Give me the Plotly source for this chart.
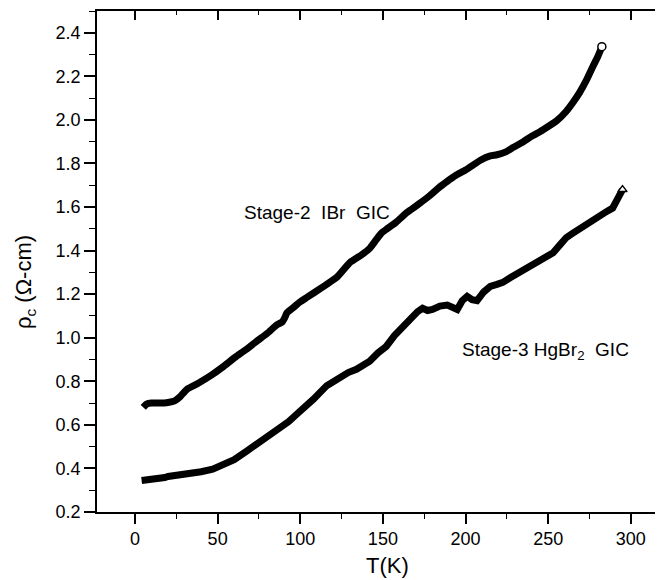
import plotly.graph_objects as go

# Stage-2 IBr GIC
T_ibr = [5, 7, 10, 15, 20, 24, 27, 31.5, 38, 46, 53, 60.5, 67, 73.6, 80, 86, 89, 90.5, 92, 96,
         100, 104, 113, 122, 130, 137, 142, 146, 149, 152.5, 158, 164.5, 171, 178, 184, 188.7,
         194, 200, 209, 215, 219, 224, 228.7, 235, 240, 245, 250, 255, 261, 265, 269, 273, 277,
         280, 282.5]
rho_ibr = [0.68, 0.695, 0.70, 0.70, 0.703, 0.71, 0.727, 0.764, 0.79, 0.827, 0.865, 0.91, 0.945,
           0.984, 1.02, 1.06, 1.072, 1.09, 1.115, 1.14, 1.165, 1.185, 1.23, 1.277, 1.345, 1.38,
           1.41, 1.45, 1.48, 1.50, 1.53, 1.575, 1.61, 1.65, 1.69, 1.717, 1.745, 1.77, 1.815,
           1.835, 1.84, 1.852, 1.873, 1.90, 1.925, 1.946, 1.97, 1.995, 2.04, 2.08, 2.125, 2.18,
           2.244, 2.29, 2.336]

# Stage-3 HgBr2 GIC
T_hg = [4, 8, 12, 16, 18, 20, 25, 30, 35, 40, 47, 53, 60, 67.6, 75, 82, 87.7, 93, 98, 103, 108,
        116, 120, 124, 129, 134, 138, 142, 147, 152, 157, 162, 165, 168, 171, 174, 177, 180,
        184.5, 189, 192, 195, 198, 201, 204, 207, 211, 215, 219, 222.6, 227, 233, 238, 243, 248,
        253, 257, 261, 265, 269, 273, 277, 281, 285.5, 289, 291, 293, 295]
rho_hg = [0.345, 0.348, 0.35, 0.35, 0.358, 0.363, 0.367, 0.372, 0.378, 0.385, 0.397, 0.415, 0.44,
          0.48, 0.52, 0.55, 0.58, 0.615, 0.65, 0.683, 0.718, 0.78, 0.80, 0.823, 0.84, 0.855,
          0.87, 0.892, 0.93, 0.96, 1.01, 1.05, 1.08, 1.10, 1.12, 1.135, 1.125, 1.13, 1.145, 1.15,
          1.14, 1.13, 1.17, 1.19, 1.175, 1.17, 1.21, 1.236, 1.245, 1.254, 1.275, 1.30, 1.32,
          1.346, 1.365, 1.39, 1.425, 1.46, 1.48, 1.50, 1.52, 1.545, 1.565, 1.58, 1.595, 1.62,
          1.648, 1.68]

x_range = [-23, 319.5]
y_range = [0.2, 2.5]
FONT = "Liberation Sans, Arial, sans-serif"

# page body has an 8px default margin; compensate so the plot box lands at
# x 97..663, y 11..512 of the window
W, H = 655, 572
ML, MR, MT, MB = 89, 0, 3, 68
PW, PH = W - ML - MR, H - MT - MB

fig = go.Figure()
fig.add_trace(go.Scatter(x=T_ibr, y=rho_ibr, mode="lines",
                         line=dict(color="black", width=7, shape="spline", smoothing=0.5),
                         showlegend=False))
fig.add_trace(go.Scatter(x=T_hg, y=rho_hg, mode="lines",
                         line=dict(color="black", width=7),
                         showlegend=False))
fig.add_trace(go.Scatter(x=[T_ibr[-1]], y=[rho_ibr[-1]], mode="markers",
                         marker=dict(symbol="circle", size=8, color="white",
                                     line=dict(color="black", width=1.5)),
                         showlegend=False))
fig.add_trace(go.Scatter(x=[T_hg[-1]], y=[rho_hg[-1]], mode="markers",
                         marker=dict(symbol="triangle-up", size=8, color="white",
                                     line=dict(color="black", width=1.5)),
                         showlegend=False))
# invisible trace so the mirror (top / right) axes get drawn
fig.add_trace(go.Scatter(x=[T_hg[0]], y=[rho_hg[0]], xaxis="x2", yaxis="y2", mode="markers",
                         marker=dict(opacity=0, size=1), showlegend=False, hoverinfo="skip"))

fig.update_layout(
    width=W, height=H,
    margin=dict(l=ML, r=MR, t=MT, b=MB, autoexpand=False),
    paper_bgcolor="white", plot_bgcolor="white",
    font=dict(family=FONT, size=18, color="black"),
    xaxis=dict(range=x_range, showgrid=False, zeroline=False,
               showline=True, linecolor="black", linewidth=1.5,
               ticks="outside", ticklen=10, tickwidth=1.5, tickcolor="black",
               dtick=50, tick0=0,
               minor=dict(ticks="outside", ticklen=5, tickwidth=1.2, dtick=25, tick0=0,
                          tickcolor="black", showgrid=False),
               tickfont=dict(size=18)),
    yaxis=dict(range=y_range, showgrid=False, zeroline=False,
               showline=True, linecolor="black", linewidth=1.5,
               ticks="outside", ticklen=11, tickwidth=1.5, tickcolor="black",
               dtick=0.2, tick0=0.2, tickformat=".1f",
               minor=dict(ticks="outside", ticklen=6, tickwidth=1.2, dtick=0.1, tick0=0.2,
                          tickcolor="black", showgrid=False),
               tickfont=dict(size=18)),
    xaxis2=dict(range=x_range, overlaying="x", side="top", showgrid=False, zeroline=False,
                showline=True, linecolor="black", linewidth=1.5,
                ticks="inside", ticklen=9, tickwidth=1.5, tickcolor="black",
                dtick=50, tick0=0, showticklabels=False,
                minor=dict(ticks="inside", ticklen=4, tickwidth=1.2, dtick=25, tick0=0,
                           tickcolor="black", showgrid=False)),
    yaxis2=dict(range=y_range, overlaying="y", side="right", showgrid=False, zeroline=False,
                showline=False, ticks="inside", ticklen=3, tickwidth=1.5, tickcolor="black",
                dtick=0.2, tick0=0.2, showticklabels=False),
)

fig.add_annotation(x=64.7, y=1.575, xref="x", yref="y", xanchor="left", yanchor="middle",
                   text="Stage-2\u00a0\u00a0IBr\u00a0\u00a0GIC", showarrow=False,
                   font=dict(size=19, family=FONT))
fig.add_annotation(x=196.6, y=0.94, xref="x", yref="y", xanchor="left", yanchor="middle",
                   text="Stage-3 HgBr<sub>2</sub>\u00a0\u00a0GIC", showarrow=False,
                   font=dict(size=19, family=FONT))

# axis titles placed by window pixel (minus the 8px body offset)
def px_to_paper(px, py):
    fx = (px - 8 - ML) / PW
    fy = (H - MB - (py - 8)) / PH
    return fx, fy

tx, ty = px_to_paper(387, 565)
fig.add_annotation(x=tx, y=ty, xref="paper", yref="paper", xanchor="center", yanchor="middle",
                   text="T(K)", showarrow=False, font=dict(size=22, family=FONT))
yx, yy = px_to_paper(25, 282)
fig.add_annotation(x=yx, y=yy, xref="paper", yref="paper", xanchor="center", yanchor="middle",
                   text="ρ<sub>c</sub> (Ω-cm)", textangle=-90, showarrow=False,
                   font=dict(size=22, family=FONT))

fig.write_html("out.html")
